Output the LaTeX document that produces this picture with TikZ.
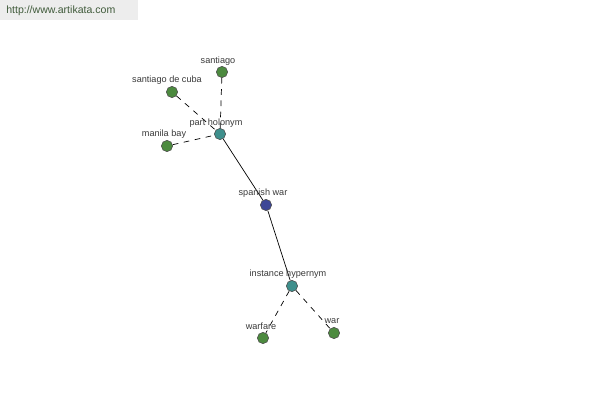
\documentclass[tikz,border=0pt]{standalone}
\usepackage{fontspec}
\setmainfont{Liberation Sans}
\definecolor{nodegreen}{HTML}{4C8A3F}
\definecolor{nodeteal}{HTML}{3E8F8C}
\definecolor{nodeblue}{HTML}{3D4796}
\definecolor{labelgray}{HTML}{3A3A3A}
\definecolor{headgray}{HTML}{EDEDED}
\definecolor{headtext}{HTML}{3F5A3A}
\tikzset{
  punto/.style={circle, draw=black!70, line width=0.4pt, inner sep=0pt, minimum size=8pt},
  hoja/.style={punto, fill=nodegreen},
  relacion/.style={punto, fill=nodeteal},
  centro/.style={punto, fill=nodeblue},
  etiqueta/.style={text=labelgray, font=\fontsize{6.5}{7}\selectfont, inner sep=0pt},
  enlace/.style={line width=0.5pt},
  discontinuo/.style={line width=0.5pt, dash pattern=on 4pt off 4pt}
}
\begin{document}
\begin{tikzpicture}[x=0.025cm, y=-0.025cm]

  % Marco del dibujo
  \useasboundingbox (0,0) rectangle (600,400);
  \fill[white] (0,0) rectangle (600,400);

  % Cabecera
  \fill[headgray] (0,0) rectangle (138,20);
  \node[anchor=west, inner sep=0pt, text=headtext, font=\fontsize{7.5}{8}\selectfont] (web) at (6,11) {http://www.artikata.com};

  % Nodos
  \node[centro] (spanish) at (266,205) {};
  \node[relacion] (holonym) at (220,134) {};
  \node[relacion] (hypernym) at (292,286) {};
  \node[hoja] (santiago) at (222,72) {};
  \node[hoja] (cuba) at (172,92) {};
  \node[hoja] (manila) at (167,146) {};
  \node[hoja] (warfare) at (263,338) {};
  \node[hoja] (war) at (334,333) {};

  % Enlaces
  \draw[enlace] (holonym) -- (spanish);
  \draw[enlace] (spanish) -- (hypernym);
  \draw[discontinuo] (santiago) -- (holonym);
  \draw[discontinuo] (cuba) -- (holonym);
  \draw[discontinuo] (manila) -- (holonym);
  \draw[discontinuo] (hypernym) -- (warfare);
  \draw[discontinuo] (hypernym) -- (war);

  % Etiquetas
  \node[etiqueta] (lspanish) at (263,193) {spanish war};
  \node[etiqueta] (lholonym) at (216,123) {part holonym};
  \node[etiqueta] (lhypernym) at (288,274) {instance hypernym};
  \node[etiqueta] (lsantiago) at (218,61) {santiago};
  \node[etiqueta] (lcuba) at (167,80) {santiago de cuba};
  \node[etiqueta] (lmanila) at (164,134) {manila bay};
  \node[etiqueta] (lwarfare) at (261,326) {warfare};
  \node[etiqueta] (lwar) at (332,321) {war};

\end{tikzpicture}
\end{document}
